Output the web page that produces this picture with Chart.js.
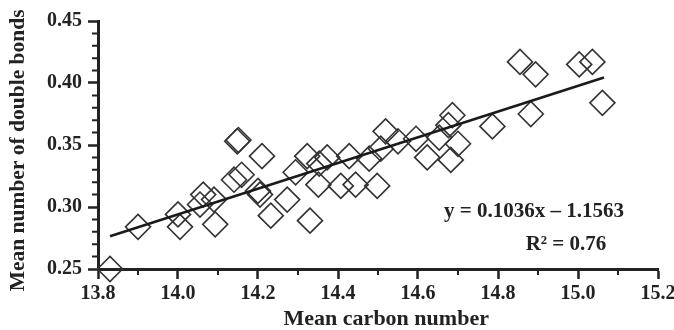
<!DOCTYPE html>
<html lang="en">
<head>
    <meta charset="UTF-8">
    <title>Mean double bonds vs carbon number</title>
    <script src="https://cdn.jsdelivr.net/npm/chart.js"></script>
    <style>
        html, body {
            margin: 0;
            padding: 0;
            background: #fff;
        }

        .chart-container {
            position: relative;
            width: 674px;
            height: 330px;
        }
    </style>
</head>
<body>
    <div class="chart-container">
        <canvas id="bondsChart"></canvas>
    </div>

    <script>
        // Values
        const carbonNumber = [13.83, 13.90, 14.00, 14.005, 14.055, 14.063, 14.09, 14.093, 14.14, 14.159,
            14.148, 14.151, 14.20, 14.205, 14.21, 14.232, 14.273, 14.294, 14.323, 14.33,
            14.353, 14.351, 14.373, 14.407, 14.428, 14.444, 14.478, 14.498, 14.507, 14.519,
            14.55, 14.595, 14.623, 14.653, 14.676, 14.686, 14.682, 14.70, 14.786, 14.855,
            14.894, 14.882, 15.003, 15.036, 15.061];
        const doubleBonds = [0.250, 0.284, 0.294, 0.284, 0.302, 0.310, 0.306, 0.286, 0.322, 0.326,
            0.353, 0.354, 0.313, 0.310, 0.341, 0.293, 0.306, 0.328, 0.341, 0.289,
            0.335, 0.318, 0.340, 0.317, 0.341, 0.318, 0.339, 0.317, 0.347, 0.361,
            0.353, 0.355, 0.340, 0.356, 0.366, 0.374, 0.338, 0.351, 0.365, 0.417,
            0.407, 0.375, 0.415, 0.417, 0.384];

        // regression line end points
        const trendX = [13.83, 15.065];
        const trendY = [0.2765, 0.4045];

        const xTickLabels = ['13.8', '14.0', '14.2', '14.4', '14.6', '14.8', '15.0', '15.2'];
        const yTickLabels = ['0.25', '0.30', '0.35', '0.40', '0.45'];

        const equationText = 'y = 0.1036x \u2013 1.1563';
        const rSquaredText = 'R\u00B2 = 0.76';
        // where the two text lines sit, in data units
        const equationAt = [14.89, 0.2963];
        const rSquaredAt = [14.97, 0.2694];

        const ink = '#222';
        const serifBold = { family: '"Liberation Serif", "Times New Roman", serif', weight: 'bold' };

        // minor tick marks between the labelled ones
        const minorTicks = {
            id: 'minorTicks',
            afterDraw(chart) {
                const ctx = chart.ctx;
                const xs = chart.scales.x;
                const ys = chart.scales.y;
                ctx.save();
                ctx.strokeStyle = ink;
                ctx.lineWidth = 2;
                ctx.beginPath();
                for (let i = 0; i < xs.ticks.length - 1; i++) {
                    const mid = (xs.ticks[i].value + xs.ticks[i + 1].value) / 2;
                    const px = xs.getPixelForValue(mid);
                    ctx.moveTo(px, xs.top);
                    ctx.lineTo(px, xs.top + 6);
                }
                for (let i = 0; i < ys.ticks.length - 1; i++) {
                    const a = ys.ticks[i].value;
                    const b = ys.ticks[i + 1].value;
                    for (let k = 1; k < 5; k++) {
                        const py = ys.getPixelForValue(a + (b - a) * k / 5);
                        ctx.moveTo(ys.right, py);
                        ctx.lineTo(ys.right - 6, py);
                    }
                }
                ctx.stroke();
                ctx.restore();
            }
        };

        const equationLabel = {
            id: 'equationLabel',
            afterDatasetsDraw(chart) {
                const ctx = chart.ctx;
                const xs = chart.scales.x;
                const ys = chart.scales.y;
                ctx.save();
                ctx.fillStyle = ink;
                ctx.font = 'bold 21px "Liberation Serif", "Times New Roman", serif';
                ctx.textAlign = 'center';
                ctx.textBaseline = 'middle';
                ctx.fillText(equationText, xs.getPixelForValue(equationAt[0]), ys.getPixelForValue(equationAt[1]));
                ctx.fillText(rSquaredText, xs.getPixelForValue(rSquaredAt[0]), ys.getPixelForValue(rSquaredAt[1]));
                ctx.restore();
            }
        };

        const ctx = document.getElementById('bondsChart').getContext('2d');
        const bondsChart = new Chart(ctx, {
            type: 'scatter',
            data: {
                datasets: [{
                    label: 'Samples',
                    data: carbonNumber.map((c, i) => ({ x: c, y: doubleBonds[i] })),
                    pointStyle: 'rectRot',
                    pointRadius: 12.5,
                    pointHoverRadius: 12.5,
                    borderWidth: 1.6,
                    borderColor: '#333',
                    backgroundColor: 'rgba(0,0,0,0)',
                    clip: false,
                    order: 2
                }, {
                    type: 'line',
                    label: 'Linear fit',
                    data: trendX.map((v, i) => ({ x: v, y: trendY[i] })),
                    borderColor: '#1a1a1a',
                    borderWidth: 2.6,
                    pointRadius: 0,
                    fill: false,
                    order: 1
                }]
            },
            options: {
                responsive: true,
                maintainAspectRatio: false,
                animation: false,
                layout: {
                    padding: { top: 21, right: 16, left: 0, bottom: 0 }
                },
                plugins: {
                    legend: { display: false },
                    tooltip: { enabled: false }
                },
                scales: {
                    x: {
                        type: 'linear',
                        min: 13.8,
                        max: 15.2,
                        afterBuildTicks: (scale) => {
                            scale.ticks = xTickLabels.map(t => ({ value: parseFloat(t) }));
                        },
                        afterFit: (scale) => {
                            scale.height = 61;
                            scale.paddingLeft = 0;
                            scale.paddingRight = 0;
                        },
                        ticks: {
                            autoSkip: false,
                            maxRotation: 0,
                            padding: 3,
                            color: ink,
                            font: { ...serifBold, size: 20 },
                            callback: (v, i) => xTickLabels[i]
                        },
                        grid: {
                            drawOnChartArea: false,
                            tickLength: 10,
                            tickWidth: 2.5,
                            tickColor: ink
                        },
                        border: { color: ink, width: 3 },
                        title: {
                            display: true,
                            // leading spaces nudge the title a little right, as in the source
                            text: '   Mean carbon number',
                            color: ink,
                            font: { ...serifBold, size: 22, lineHeight: 1 },
                            padding: 0
                        }
                    },
                    y: {
                        min: 0.25,
                        max: 0.45,
                        afterBuildTicks: (scale) => {
                            scale.ticks = yTickLabels.map(t => ({ value: parseFloat(t) }));
                        },
                        afterFit: (scale) => {
                            scale.width = 98;
                            scale.paddingTop = 0;
                            scale.paddingBottom = 0;
                        },
                        ticks: {
                            autoSkip: false,
                            padding: 6,
                            color: ink,
                            font: { ...serifBold, size: 20 },
                            callback: (v, i) => yTickLabels[i]
                        },
                        grid: {
                            drawOnChartArea: false,
                            tickLength: 10,
                            tickWidth: 2.5,
                            tickColor: ink
                        },
                        border: { color: ink, width: 3 },
                        title: {
                            display: true,
                            text: 'Mean number of double bonds  ',
                            color: ink,
                            font: { ...serifBold, size: 21.5, lineHeight: 1.2 },
                            padding: { top: 6, bottom: 0 }
                        }
                    }
                }
            },
            plugins: [minorTicks, equationLabel]
        });
    </script>
</body>
</html>
